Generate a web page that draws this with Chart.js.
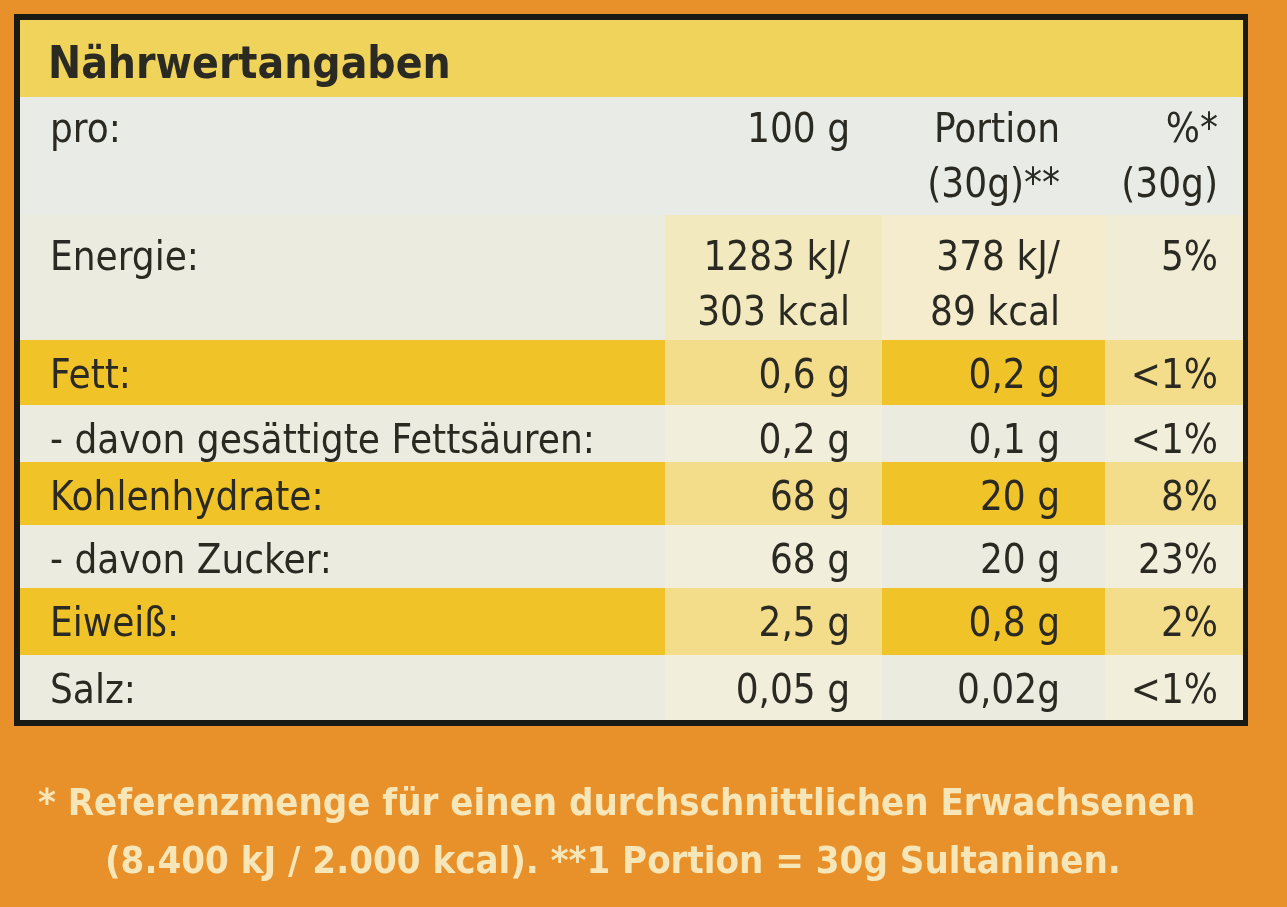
<!DOCTYPE html>
<html><head><meta charset="utf-8">
<script src="https://cdn.jsdelivr.net/npm/chart.js@4/dist/chart.umd.min.js"></script>
<style>html,body{margin:0;padding:0;background:#e8902a;}#w{width:1287px;height:907px;}</style>
</head><body><div id="w"><canvas id="c"></canvas></div>
<script>
const title = "Nährwertangaben";
const headers = ["pro:", "100 g", "Portion\n(30g)**", "%*\n(30g)"];
const rowLabels = ["Energie:", "Fett:", "- davon gesättigte Fettsäuren:", "Kohlenhydrate:", "- davon Zucker:", "Eiweiß:", "Salz:"];
const per100g = ["1283 kJ/\n303 kcal", "0,6 g", "0,2 g", "68 g", "68 g", "2,5 g", "0,05 g"];
const perPortion = ["378 kJ/\n89 kcal", "0,2 g", "0,1 g", "20 g", "20 g", "0,8 g", "0,02g"];
const percentRef = ["5%", "<1%", "<1%", "8%", "23%", "2%", "<1%"];
const footnote = ["* Referenzmenge für einen durchschnittlichen Erwachsenen", "(8.400 kJ / 2.000 kcal). **1 Portion = 30g Sultaninen."];

// layout (pixel-space units on the linear scales)
const colEdges = [22, 665, 882, 1105, 1240];
const rowEdges = [215, 340, 405, 462, 525, 588, 655, 720];
const FONT = '"Liberation Sans Narrow","DejaVu Sans Condensed","Roboto",sans-serif';
const YEL = '#f0c328', YEL2 = '#f3dc8a', LIGHT = '#ecebe0', CREAM = '#f2e9bf';

const tablePlugin = {
  id: 'table',
  beforeDatasetsDraw(chart) {
    const ctx = chart.ctx, X = v => chart.scales.x.getPixelForValue(v), Y = v => chart.scales.y.getPixelForValue(v);
    const rect = (x0,y0,x1,y1,c) => { ctx.fillStyle=c; ctx.fillRect(X(x0),Y(y0),X(x1)-X(x0),Y(y1)-Y(y0)); };
    rect(0,0,1287,907,'#e8902a');
    rect(14,14,1248,726,'#1a1a14');
    rect(20,20,1243,97,'#efd35a');
    rect(20,97,1243,215,'#e9ece6');
    rowLabels.forEach((l,i) => {
      const y0=rowEdges[i], y1=rowEdges[i+1];
      const strong = (i===1||i===3||i===5);
      const cols = i===0 ? [LIGHT, CREAM, '#f4eccc', '#f0ecd6'] :
                   strong ? [YEL, YEL2, YEL, YEL2] : [LIGHT, '#f1eedc', LIGHT, '#f1eedc'];
      for (let c=0;c<4;c++) rect(c===0?20:colEdges[c], y0, c===3?1243:colEdges[c+1], y1, cols[c]);
    });
    ctx.fillStyle='#2a2a22';
    ctx.textBaseline='alphabetic';
    ctx.font='bold 44px '+FONT; ctx.textAlign='left';
    ctx.fillText(title, X(48), Y(78));
    ctx.font='40px '+FONT;
    const right=[null,X(850),X(1060),X(1218)];
    const draw=(txt,x,y,align)=>{ctx.textAlign=align; txt.split('\n').forEach((t,k)=>ctx.fillText(t,x,Y(y+k*55)));};
    draw(headers[0],X(50),142,'left');
    for(let c=1;c<4;c++) draw(headers[c],right[c],142,'right');
    rowLabels.forEach((l,i)=>{
      const y = rowEdges[i]+(i===0?55:48);
      draw(l,X(50),y,'left');
      draw(per100g[i],right[1],y,'right');
      draw(perPortion[i],right[2],y,'right');
      draw(percentRef[i],right[3],y,'right');
    });
    ctx.fillStyle='#f6e6b8'; ctx.font='bold 38px '+FONT; ctx.textAlign='left';
    ctx.fillText(footnote[0],X(38),Y(815));
    ctx.fillText(footnote[1],X(105),Y(873));
  }
};

new Chart(document.getElementById('c'), {
  type:'scatter',
  data:{datasets:[{data:[]}]},
  options:{responsive:true,maintainAspectRatio:false,animation:false,
    layout:{padding:0},
    plugins:{legend:{display:false},tooltip:{enabled:false}},
    scales:{x:{type:'linear',min:0,max:1287,display:false},
            y:{type:'linear',min:0,max:907,reverse:true,display:false}}},
  plugins:[tablePlugin]
});
</script></body></html>
